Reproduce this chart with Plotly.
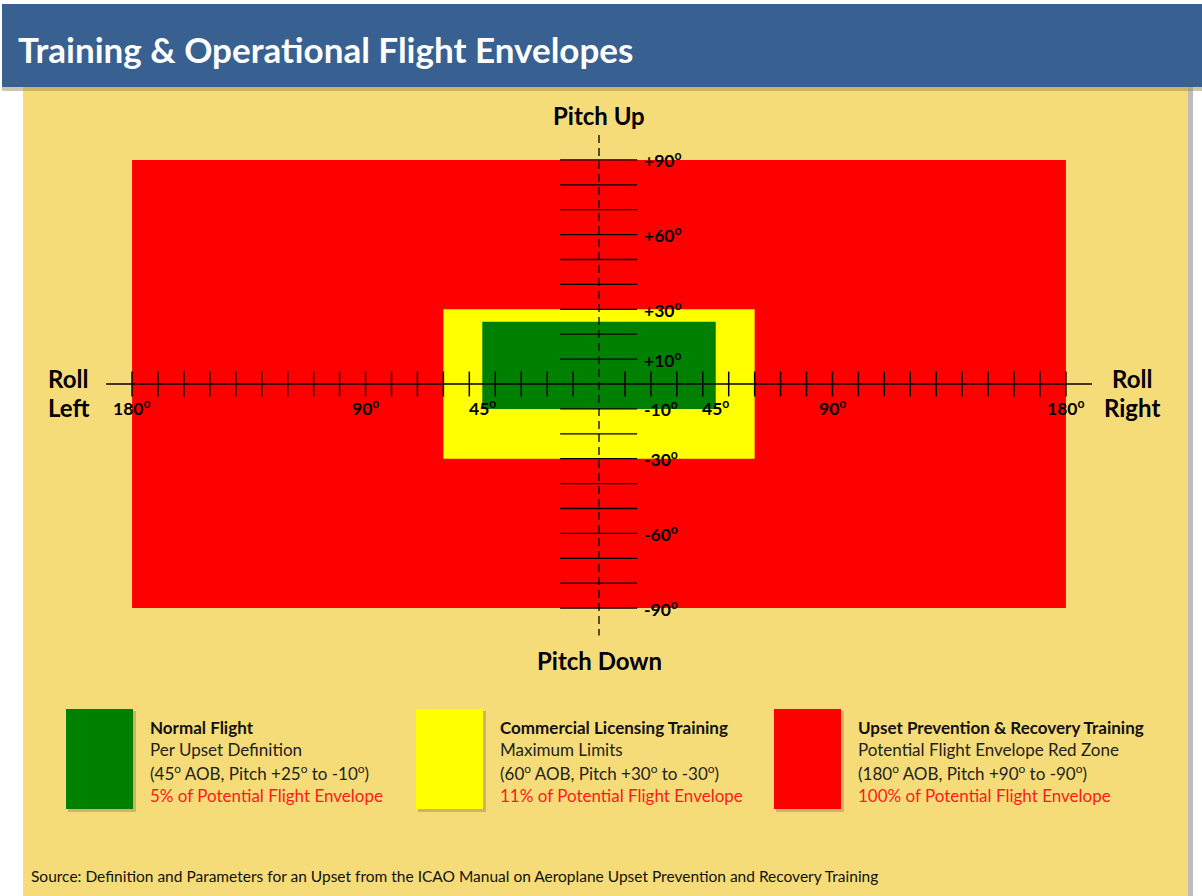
import plotly.graph_objects as go

W, H = 1202, 896

# ---------------- data ----------------
envelope_names = ["Upset Prevention & Recovery Training", "Commercial Licensing Training", "Normal Flight"]
envelope_colors = ["#FF0000", "#FFFF00", "#008000"]
roll_limit = [180, 60, 45]          # degrees AOB (symmetric left/right)
pitch_up_limit = [90, 30, 25]       # degrees
pitch_down_limit = [-90, -30, -10]  # degrees

roll_ticks = [v for v in range(-180, 181, 10) if v != 0]
pitch_ticks = [v for v in range(-90, 91, 10) if v != 0]
pitch_label_values = [90, 60, 30, 10, -10, -30, -60, -90]
roll_label_values = [-180, -90, -45, 45, 90, 180]

legend_titles = ["Normal Flight", "Commercial Licensing Training", "Upset Prevention & Recovery Training"]
legend_line2 = ["Per Upset Definition", "Maximum Limits", "Potential Flight Envelope Red Zone"]
legend_line3 = ["(45<sup>o</sup> AOB, Pitch +25<sup>o</sup> to -10<sup>o</sup>)",
                "(60<sup>o</sup> AOB, Pitch +30<sup>o</sup> to -30<sup>o</sup>)",
                "(180<sup>o</sup> AOB, Pitch +90<sup>o</sup> to -90<sup>o</sup>)"]
legend_share = ["5% of Potential Flight Envelope", "11% of Potential Flight Envelope",
                "100% of Potential Flight Envelope"]
legend_colors = ["#008000", "#FFFF00", "#FF0000"]

# ---------------- layout helpers ----------------
SX, SY = 2.594, 2.49    # pixels per degree
X0, Y0 = 599, 384       # pixel position of origin
FONT = "Lato"

def px(x):
    return x / W

def py(y):
    return 1 - y / H

fig = go.Figure()
shapes = []
annotations = []

# page background: panel + shadow, title bar + shadow
shapes.append(dict(type="rect", xref="paper", yref="paper", x0=px(26), x1=px(1193), y0=py(896), y1=py(84),
                   fillcolor="#BDBDBD", line_width=0, layer="below"))
shapes.append(dict(type="rect", xref="paper", yref="paper", x0=px(23), x1=px(1188), y0=py(896), y1=py(84),
                   fillcolor="#F6DC78", line_width=0, layer="below"))
shapes.append(dict(type="rect", xref="paper", yref="paper", x0=px(2), x1=px(1202), y0=py(91), y1=py(4),
                   fillcolor="#A08C50", line_width=0, layer="below", opacity=0.5))
shapes.append(dict(type="rect", xref="paper", yref="paper", x0=px(2), x1=px(1202), y0=py(87), y1=py(4),
                   fillcolor="#386192", line_width=0, layer="below"))

annotations.append(dict(xref="paper", yref="paper", x=px(16), y=py(49), xanchor="left", yanchor="middle",
                        text="<b>Training & Operational Flight Envelopes</b>", showarrow=False,
                        font=dict(family=FONT, size=35, color="white")))

# envelopes (drawn as filled traces in data coordinates)
for name, col, r, pu, pd in zip(envelope_names, envelope_colors, roll_limit, pitch_up_limit, pitch_down_limit):
    fig.add_trace(go.Scatter(x=[-r, r, r, -r, -r], y=[pd, pd, pu, pu, pd], mode="lines", fill="toself",
                             fillcolor=col, line=dict(width=0, color=col), name=name, hoverinfo="name"))

# roll axis line
fig.add_trace(go.Scatter(x=[-190, 190], y=[0, 0], mode="lines", line=dict(color="black", width=1.5),
                         hoverinfo="skip"))
# roll ticks
tx, ty = [], []
for v in roll_ticks:
    tx += [v, v, None]
    ty += [-5, 5, None]
fig.add_trace(go.Scatter(x=tx, y=ty, mode="lines", line=dict(color="black", width=1.5), hoverinfo="skip"))
# pitch ticks
px_, py_ = [], []
for v in pitch_ticks:
    px_ += [-15, 14.7, None]
    py_ += [v, v, None]
fig.add_trace(go.Scatter(x=px_, y=py_, mode="lines", line=dict(color="black", width=1.3), hoverinfo="skip"))
# pitch axis (dashed)
fig.add_trace(go.Scatter(x=[0, 0], y=[100, -101], mode="lines",
                         line=dict(color="black", width=1.3, dash="8px,5px"), hoverinfo="skip"))

# tick labels
for v in pitch_label_values:
    t = ("+" if v > 0 else "-") + str(abs(v)) + "<sup>o</sup>"
    annotations.append(dict(x=16.5, y=v, xref="x", yref="y", xanchor="left", yanchor="middle",
                            text="<b>" + t + "</b>", showarrow=False,
                            font=dict(family=FONT, size=17.5, color="black")))
for v in roll_label_values:
    annotations.append(dict(x=v, y=-9.6, xref="x", yref="y", xanchor="center", yanchor="middle",
                            text="<b>" + str(abs(v)) + "<sup>o</sup></b>", showarrow=False,
                            font=dict(family=FONT, size=17.5, color="black")))

# axis titles
for txt, x, y in [("Pitch Up", 599, 115), ("Pitch Down", 599, 660), ("Roll", 68, 378), ("Left", 68, 407),
                  ("Roll", 1132, 378), ("Right", 1132, 407)]:
    annotations.append(dict(xref="paper", yref="paper", x=px(x), y=py(y), xanchor="center", yanchor="middle",
                            text="<b>" + txt + "</b>", showarrow=False,
                            font=dict(family=FONT, size=24, color="black")))

# legend
box_x = [66, 416, 774]
for i in range(3):
    bx = box_x[i]
    shapes.append(dict(type="rect", xref="paper", yref="paper", x0=px(bx + 2), x1=px(bx + 70), y0=py(812),
                       y1=py(711), fillcolor="#9E8E5C", opacity=0.5, line_width=0))
    shapes.append(dict(type="rect", xref="paper", yref="paper", x0=px(bx), x1=px(bx + 67), y0=py(809),
                       y1=py(709), fillcolor=legend_colors[i], line_width=0))
    tx0 = bx + 82
    lines = [("<b>" + legend_titles[i] + "</b>", "#111111", 727),
             (legend_line2[i], "#222222", 749),
             (legend_line3[i], "#222222", 772),
             (legend_share[i], "#FF1A1A", 795)]
    for t, c, y in lines:
        annotations.append(dict(xref="paper", yref="paper", x=px(tx0), y=py(y), xanchor="left",
                                yanchor="middle", text=t, showarrow=False,
                                font=dict(family=FONT, size=17, color=c)))

annotations.append(dict(xref="paper", yref="paper", x=px(29), y=py(876), xanchor="left", yanchor="middle",
                        text="Source: Definition and Parameters for an Upset from the ICAO Manual on Aeroplane "
                             "Upset Prevention and Recovery Training",
                        showarrow=False, font=dict(family=FONT, size=15.5, color="#111111")))

fig.update_layout(
    width=W, height=H, margin=dict(l=0, r=0, t=0, b=0, pad=0),
    paper_bgcolor="white", plot_bgcolor="rgba(0,0,0,0)", showlegend=False,
    shapes=shapes, annotations=annotations,
    xaxis=dict(range=[-X0 / SX, (W - X0) / SX], visible=False, fixedrange=True, domain=[0, 1]),
    yaxis=dict(range=[-(H - Y0) / SY, Y0 / SY], visible=False, fixedrange=True, domain=[0, 1]),
)

fig.write_html("out.html", config={"displayModeBar": False},
               post_script="document.body.style.margin='0px';document.body.style.overflow='hidden';")
